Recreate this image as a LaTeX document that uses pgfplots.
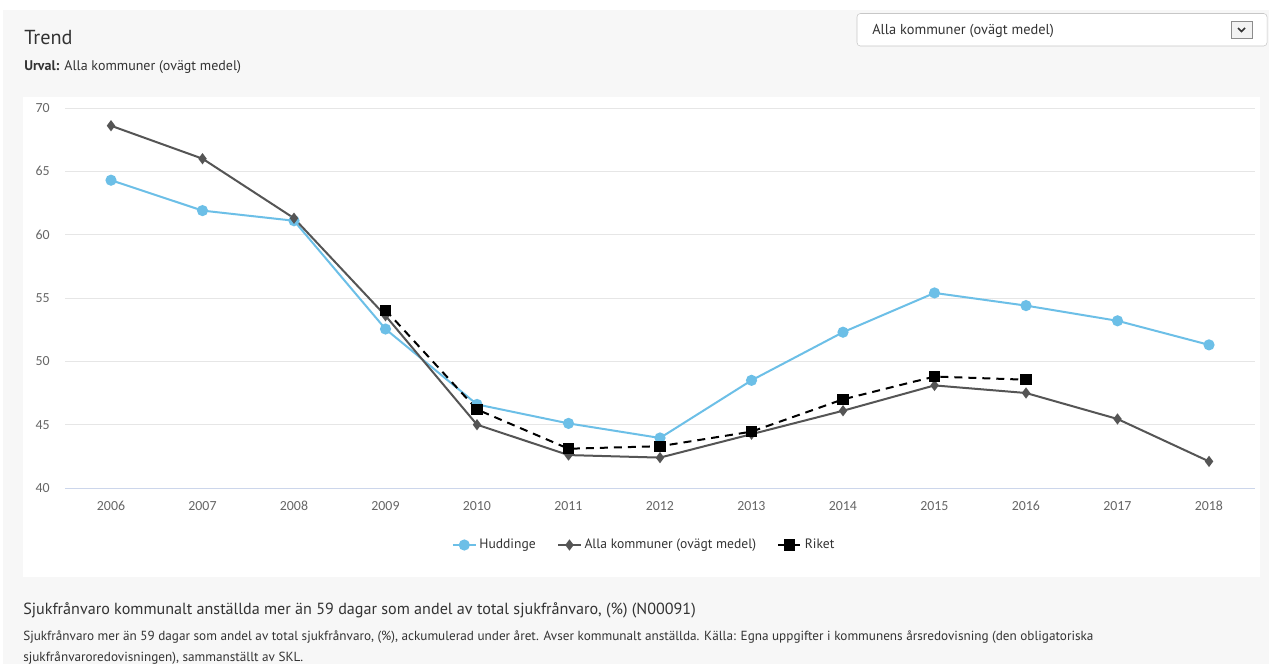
\documentclass[border=0pt]{standalone}
\usepackage{fontspec}
\setmainfont{PT Sans}
\newfontfamily\tickfont{Carlito}
\usepackage{pgfplots}
\pgfplotsset{compat=1.18}
\definecolor{pagebg}{HTML}{F7F7F7}
\definecolor{txt}{HTML}{333333}
\definecolor{ticktxt}{HTML}{666666}
\definecolor{gridc}{HTML}{E6E6E6}
\definecolor{xaxisc}{HTML}{CCD6EB}
\definecolor{hudd}{HTML}{6CBFE7}
\definecolor{alla}{HTML}{555555}
\newcommand{\fs}[1]{\fontsize{#1}{#1}\selectfont}

\begin{document}
\begin{tikzpicture}
% page in pixel units (1px = 0.75pt), y pointing down
\begin{scope}[x=0.75pt,y=-0.75pt]
  \fill[white] (0,0) rectangle (1269,664);
  \fill[pagebg] (3,10) rectangle (1269,664);
  \fill[white] (23,97) rectangle (1260,577);
  % dropdown
  \draw[fill=white,draw=black!22,rounded corners=2.5pt] (857,13.5) rectangle (1267,46);
  \node[anchor=base west,inner sep=0pt,text=txt,font=\fs{10.8}] at (872,34.5) {Alla kommuner (ovägt medel)};
  \draw[fill=black!5,draw=black!45] (1231,21.5) rectangle (1252,38.5);
  \draw[line width=1.3pt,black!80] (1238,28) -- (1241.5,31.5) -- (1245,28);
  % headings
  \node[anchor=base west,inner sep=0pt,text=txt,font=\fs{15.2}] at (24,44.5) {Trend};
  \node[anchor=base west,inner sep=0pt,text=txt,font=\fs{10.5}] at (24,70) {\textbf{Urval:} Alla kommuner (ovägt medel)};
  % footer text
  \node[anchor=base west,inner sep=0pt,text=txt,font=\fs{12.1}] at (23,614) {Sjukfrånvaro kommunalt anställda mer än 59 dagar som andel av total sjukfrånvaro, (\%) (N00091)};
  \node[anchor=base west,inner sep=0pt,text=txt,font=\fs{9.9}] at (23,640) {Sjukfrånvaro mer än 59 dagar som andel av total sjukfrånvaro, (\%), ackumulerad under året. Avser kommunalt anställda. Källa: Egna uppgifter i kommunens årsredovisning (den obligatoriska};
  \node[anchor=base west,inner sep=0pt,text=txt,font=\fs{9.9}] at (23,661) {sjukfrånvaroredovisningen), sammanställt av SKL.};
\end{scope}

\begin{axis}[
  at={(48.9375pt,-366pt)}, anchor=south west,
  scale only axis, width=892.125pt, height=285pt,
  xmin=2005.5, xmax=2018.5, ymin=40, ymax=70,
  xtick={2006,...,2018}, ytick={40,45,...,70},
  axis x line*=bottom, axis y line*=left,
  x axis line style={draw=xaxisc,line width=0.75pt},
  y axis line style={draw=none},
  major tick length=0pt,
  ymajorgrids, grid style={gridc,line width=0.75pt},
  /pgf/number format/1000 sep={},
  /pgf/number format/assume math mode=true,
  ticklabel style={font=\tickfont\fs{10.4},text=ticktxt,inner sep=0pt},
  yticklabel style={anchor=east,xshift=-11.5pt},
  xticklabel style={anchor=base,yshift=-17pt},
  clip=false,
  legend columns=3,
  legend style={at={(0.487,-0.15)},anchor=center,draw=none,fill=none,
    font=\fs{10.2},text=txt,
    /tikz/every even column/.append style={column sep=14pt}},
]
\addplot[hudd,line width=1.5pt,mark=*,mark size=3.4pt,mark options={solid}] coordinates {
  (2006,64.3) (2007,61.9) (2008,61.1) (2009,52.55) (2010,46.6) (2011,45.1) (2012,43.95)
  (2013,48.5) (2014,52.3) (2015,55.4) (2016,54.4) (2017,53.2) (2018,51.3)
};
\addlegendentry{Huddinge}
\addplot[alla,line width=1.5pt,mark=diamond*,mark size=3pt,mark options={solid}] coordinates {
  (2006,68.6) (2007,66.0) (2008,61.3) (2009,53.6) (2010,45.0) (2011,42.6) (2012,42.4)
  (2013,44.25) (2014,46.1) (2015,48.1) (2016,47.5) (2017,45.45) (2018,42.1)
};
\addlegendentry{Alla kommuner (ovägt medel)}
\addplot[black,line width=1.5pt,dash pattern=on 6pt off 4.5pt,mark=square*,mark size=3.4pt,mark options={solid}] coordinates {
  (2009,54.05) (2010,46.2) (2011,43.1) (2012,43.3) (2013,44.45) (2014,47.0) (2015,48.8) (2016,48.55)
};
\addlegendentry{Riket}
\end{axis}
\end{tikzpicture}
\end{document}
